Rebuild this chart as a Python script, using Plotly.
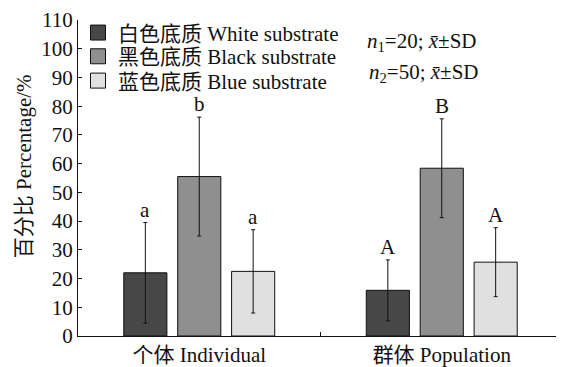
import plotly.graph_objects as go

categories = ["个体 Individual", "群体 Population"]
series_names = ["白色底质 White substrate", "黑色底质 Black substrate", "蓝色底质 Blue substrate"]
means = {
    "白色底质 White substrate": [22.0, 15.9],
    "黑色底质 Black substrate": [55.5, 58.4],
    "蓝色底质 Blue substrate": [22.5, 25.7],
}
sds = {
    "白色底质 White substrate": [17.5, 10.6],
    "黑色底质 Black substrate": [20.7, 17.2],
    "蓝色底质 Blue substrate": [14.5, 12.0],
}
letters = {
    "白色底质 White substrate": ["a", "A"],
    "黑色底质 Black substrate": ["b", "B"],
    "蓝色底质 Blue substrate": ["a", "A"],
}
colors = ["#474747", "#8f8f8f", "#e0e0e0"]
y_ticks = list(range(0, 111, 10))
y_title = "百分比 Percentage/%"

FONT = "Liberation Serif, Times New Roman, Noto Sans CJK SC"
FS = 21

fig = go.Figure()
bargap = 0.333
slot = (1 - bargap) / 3
legend_ids = ["legend", "legend2", "legend3"]
legend_y = [1.024, 0.949, 0.872]
for i, name in enumerate(series_names):
    fig.add_trace(go.Bar(
        x=categories, y=means[name], name=name, showlegend=False,
        marker=dict(color=colors[i], line=dict(color="#111111", width=1)),
        error_y=dict(type="data", array=sds[name], visible=True,
                     color="#111111", thickness=1, width=2),
    ))
    # legend proxy
    fig.add_trace(go.Scatter(
        x=[None], y=[None], mode="markers", name=name, legend=legend_ids[i],
        marker=dict(symbol="square", size=15, color=colors[i],
                    line=dict(color="#111111", width=1)),
    ))
    for j, cat in enumerate(categories):
        fig.add_annotation(
            x=j + (i - 1) * slot, y=means[name][j] + sds[name][j],
            xref="x", yref="y", text=letters[name][j], showarrow=False,
            yanchor="middle", yshift=13,
            font=dict(family=FONT, size=FS, color="#111111"),
        )

fig.add_annotation(x=0.709, y=0.931, xref="paper", yref="paper",
                   xanchor="center", yanchor="middle",
                   text="<i>n</i><sub>1</sub>=20; <i>x̄</i>±SD", showarrow=False,
                   font=dict(family=FONT, size=FS, color="#111111"))
fig.add_annotation(x=0.713, y=0.831, xref="paper", yref="paper",
                   xanchor="center", yanchor="middle",
                   text="<i>n</i><sub>2</sub>=50; <i>x̄</i>±SD", showarrow=False,
                   font=dict(family=FONT, size=FS, color="#111111"))
# y-axis title
fig.add_annotation(x=-0.111, y=0.538, xref="paper", yref="paper",
                   xanchor="center", yanchor="middle", textangle=-90,
                   text=y_title, showarrow=False,
                   font=dict(family=FONT, size=FS, color="#111111"))

legend_common = dict(x=0.0, xanchor="left", yanchor="top",
                     bgcolor="rgba(0,0,0,0)", font=dict(family=FONT, size=FS, color="#111111"),
                     itemwidth=30)

fig.update_layout(
    width=564, height=367,
    margin=dict(l=70, r=9, t=12, b=39, autoexpand=False),
    paper_bgcolor="white", plot_bgcolor="white",
    barmode="group", bargap=bargap, bargroupgap=0.2,
    font=dict(family=FONT, size=FS, color="#111111"),
    legend=dict(y=legend_y[0], **legend_common),
    legend2=dict(y=legend_y[1], **legend_common),
    legend3=dict(y=legend_y[2], **legend_common),
    xaxis=dict(showline=True, linecolor="#111111", linewidth=1,
               ticks="inside", tickson="boundaries", ticklen=4,
               tickcolor="#111111", showgrid=False, zeroline=False,
               automargin=False,
               tickfont=dict(family=FONT, size=FS)),
    yaxis=dict(range=[0, 110], tickvals=y_ticks, showline=True,
               linecolor="#111111", linewidth=1, ticks="inside", ticklen=4,
               tickcolor="#111111", showgrid=False, zeroline=False,
               automargin=False,
               tickfont=dict(family=FONT, size=FS)),
)

fig.write_html("out.html")
